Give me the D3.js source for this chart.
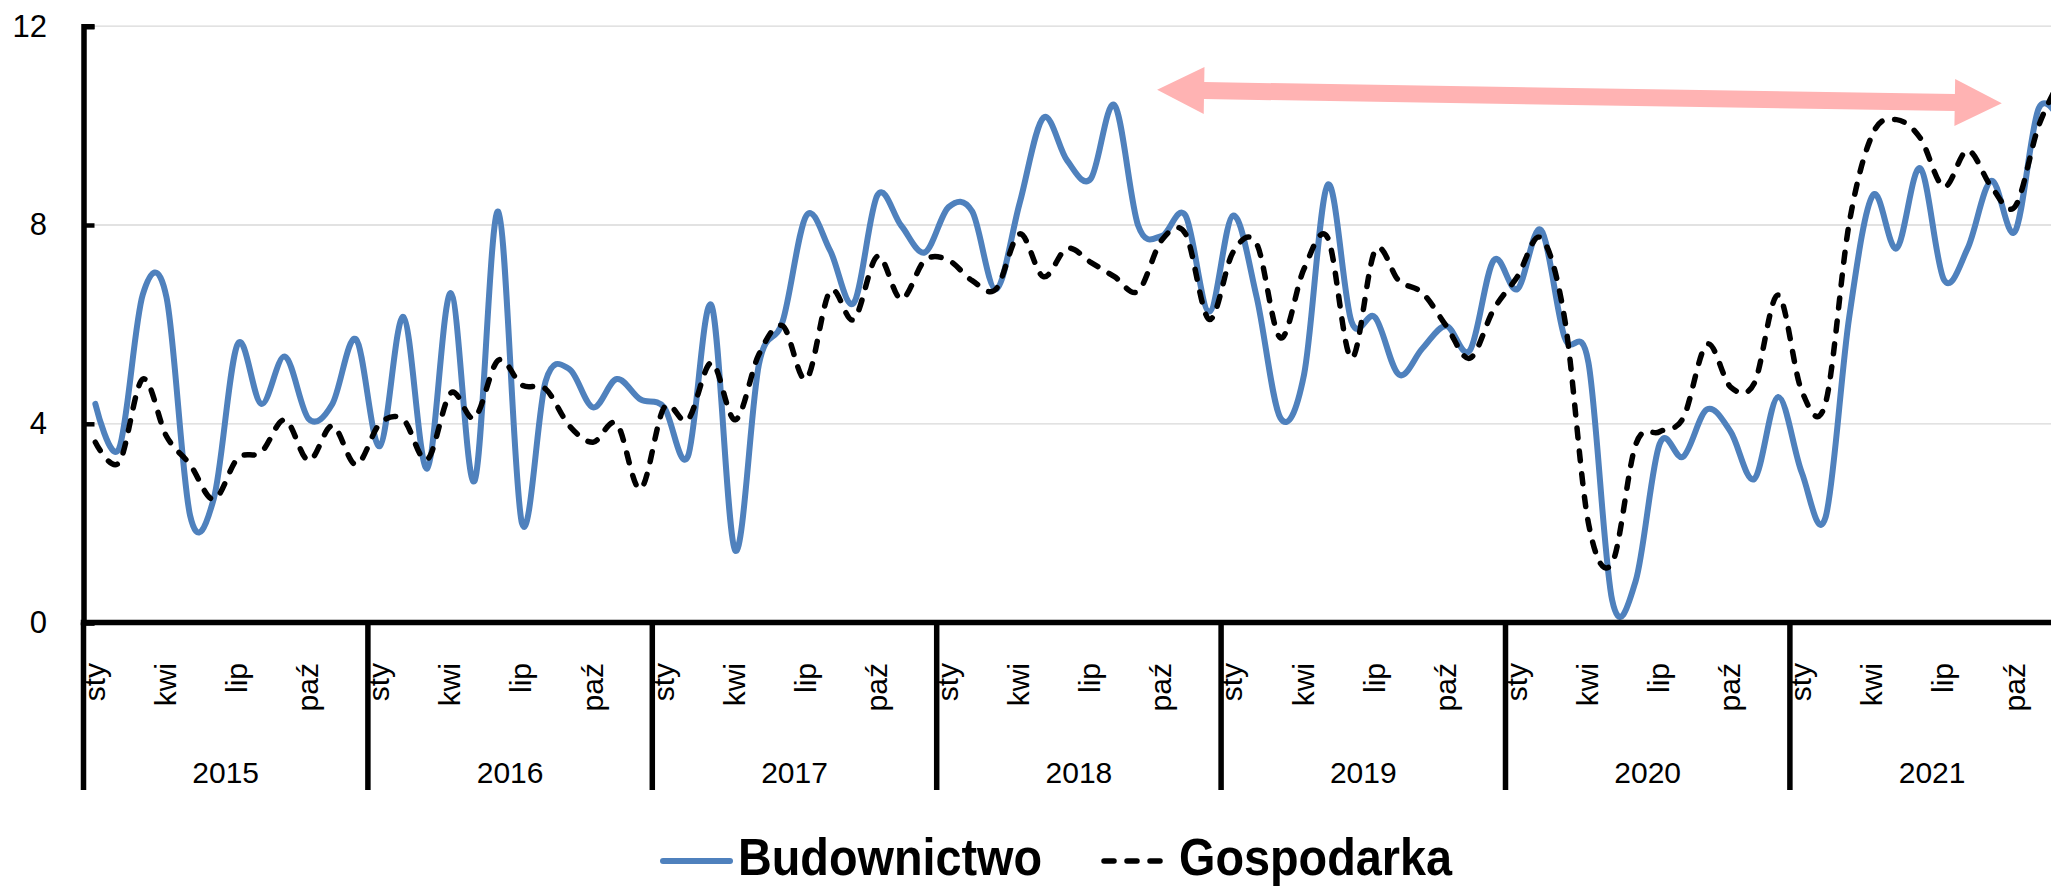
<!DOCTYPE html>
<html>
<head>
<meta charset="utf-8">
<script src="https://cdn.jsdelivr.net/npm/d3@7"></script>
<style>
	body { margin: 0; background: #fff; }
	svg { display: block; font-family: "Liberation Sans", Arial, sans-serif; }
</style>
</head>
<body>
<div class="graph"></div>
<script>

const years = ["2015", "2016", "2017", "2018", "2019", "2020", "2021"];
const monthNames = ["sty", "lut", "mar", "kwi", "maj", "cze", "lip", "sie", "wrz", "paź", "lis", "gru"];
const labelledMonths = ["sty", "kwi", "lip", "paź"];
const yTicks = [0, 4, 8, 12];

// Budownictwo, sty 2015 - gru 2021 (one row per year)
const budownictwo = [
	4.4, 3.5, 6.6, 6.55, 2.15, 2.5, 5.6, 4.4, 5.35, 4.1, 4.4, 5.7,
	3.55, 6.15, 3.1, 6.63, 2.85, 8.27, 2.0, 4.86, 5.1, 4.33, 4.9, 4.49,
	4.33, 3.34, 6.38, 1.45, 5.2, 6.06, 8.19, 7.49, 6.43, 8.6, 7.99, 7.45,
	8.36, 8.27, 6.71, 8.44, 10.16, 9.3, 8.93, 10.41, 7.99, 7.78, 8.19, 6.26,
	8.19, 6.55, 4.12, 4.99, 8.81, 6.06, 6.14, 4.99, 5.52, 5.97, 5.48, 7.29,
	6.71, 7.9, 5.73, 5.23, 0.45, 0.85, 3.59, 3.34, 4.29, 3.84, 2.89, 4.54,
	3.02, 2.11, 6.14, 8.6, 7.53, 9.14, 6.9, 7.53, 8.89, 7.87, 10.35, 10.0
];

// Gospodarka, sty 2015 - gru 2021
const gospodarka = [
	3.63, 3.22, 4.9, 3.75, 3.18, 2.48, 3.3, 3.43, 4.08, 3.26, 3.96, 3.18,
	4.0, 4.08, 3.28, 4.62, 4.12, 5.28, 4.78, 4.7, 3.96, 3.63, 4.0, 2.69,
	4.33, 4.08, 5.23, 4.08, 5.4, 5.97, 4.9, 6.67, 6.1, 7.37, 6.51, 7.29,
	7.29, 6.88, 6.71, 7.82, 6.96, 7.53, 7.25, 6.96, 6.67, 7.7, 7.82, 6.1,
	7.45, 7.62, 5.73, 7.12, 7.74, 5.32, 7.49, 6.88, 6.63, 5.97, 5.32, 6.3,
	6.96, 7.74, 6.1, 2.0, 1.2, 3.59, 3.84, 4.12, 5.6, 4.74, 4.82, 6.59,
	4.66, 4.41, 8.03, 9.84, 10.12, 9.75, 8.77, 9.5, 8.77, 8.37, 10.0, 11.0
];

// pink double arrow, [month position, value]
const arrowFrom = [45.3, 10.72];
const arrowTo = [80.94, 10.45];


function drawChart(){

	let width = 2051;
	let height = 887;
	let blue = "#4F81BD";

	let svg = d3.select(".graph")
		.append("svg")
		.attr("width", width)
		.attr("height", height);

	svg.append("rect")
		.attr("width", width)
		.attr("height", height)
		.attr("fill", "#fff");

	let nMonths = years.length * monthNames.length;

	// one unit = one month, chart keeps going past the right edge of the picture
	let x = d3.scaleLinear().domain([0, nMonths]).range([83.5, 83.5 + nMonths * 23.7]);
	let y = d3.scaleLinear().domain([0, 12]).range([622.6, 26.2]);

	// gridlines
	svg.append("g")
		.selectAll("line")
		.data(yTicks.filter(d => d > 0))
		.enter().append("line")
		.attr("x1", x(0))
		.attr("x2", width)
		.attr("y1", d => y(d))
		.attr("y2", d => y(d))
		.attr("stroke", "#d9d9d9")
		.attr("stroke-width", 1.3);

	// arrow annotation
	let p0 = [x(arrowFrom[0]), y(arrowFrom[1])];
	let p1 = [x(arrowTo[0]), y(arrowTo[1])];
	let len = Math.hypot(p1[0] - p0[0], p1[1] - p0[1]);
	let u = [(p1[0] - p0[0]) / len, (p1[1] - p0[1]) / len];
	let n = [-u[1], u[0]];
	let head = 47, headW = 23.5, shaftW = 8.5;
	let at = (p, a, b) => [p[0] + u[0] * a + n[0] * b, p[1] + u[1] * a + n[1] * b];
	let arrowPts = [
		p0,
		at(p0, head, headW), at(p0, head, shaftW),
		at(p1, -head, shaftW), at(p1, -head, headW),
		p1,
		at(p1, -head, -headW), at(p1, -head, -shaftW),
		at(p0, head, -shaftW), at(p0, head, -headW)
	];
	svg.append("polygon")
		.attr("points", arrowPts.map(p => p.join(",")).join(" "))
		.attr("fill", "#FFB3B3");

	// smooth lines like excel
	let line = d3.line()
		.x((d, i) => x(i + 0.5))
		.y(d => y(d))
		.curve(d3.curveCardinal.tension(0));

	svg.append("path")
		.datum(budownictwo)
		.attr("d", line)
		.attr("fill", "none")
		.attr("stroke", blue)
		.attr("stroke-width", 6)
		.attr("stroke-linejoin", "round")
		.attr("stroke-linecap", "round");

	svg.append("path")
		.datum(gospodarka)
		.attr("d", line)
		.attr("fill", "none")
		.attr("stroke", "#000")
		.attr("stroke-width", 5.5)
		.attr("stroke-dasharray", "10,13")
		.attr("stroke-linecap", "round");

	// y axis
	let yAxis = svg.append("g")
		.attr("transform", "translate(" + x(0) + ",0)")
		.call(d3.axisLeft(y).tickValues(yTicks).tickSize(-11).tickPadding(36.5).tickFormat(d3.format("d")));
	yAxis.select(".domain").attr("stroke", "#000").attr("stroke-width", 5.5);
	yAxis.selectAll(".tick line").attr("stroke", "#000").attr("stroke-width", 4.5);
	yAxis.selectAll(".tick text")
		.attr("fill", "#000")
		.style("font-size", "31px")
		.style("font-family", "'Liberation Sans', Arial, sans-serif");

	// x axis line
	svg.append("line")
		.attr("x1", x(0) - 2.75)
		.attr("x2", width)
		.attr("y1", y(0))
		.attr("y2", y(0))
		.attr("stroke", "#000")
		.attr("stroke-width", 5.5);

	// year separators
	svg.append("g")
		.selectAll("line")
		.data(d3.range(years.length + 1))
		.enter().append("line")
		.attr("x1", d => x(d * 12))
		.attr("x2", d => x(d * 12))
		.attr("y1", y(0))
		.attr("y2", 790)
		.attr("stroke", "#000")
		.attr("stroke-width", 5.5);

	// month labels (rotated)
	let monthTicks = [];
	years.forEach(function(yr, yi){
		monthNames.forEach(function(m, mi){
			if (labelledMonths.indexOf(m) >= 0){
				monthTicks.push({ name: m, idx: yi * 12 + mi });
			}
		});
	});

	svg.append("g")
		.selectAll("text")
		.data(monthTicks)
		.enter().append("text")
		.attr("transform", d => "translate(" + (x(d.idx + 0.5) + 9.5) + ",663) rotate(-90)")
		.attr("text-anchor", "end")
		.attr("font-size", "30px")
		.attr("fill", "#000")
		.text(d => d.name);

	// year labels
	svg.append("g")
		.selectAll("text")
		.data(years)
		.enter().append("text")
		.attr("x", (d, i) => x(i * 12 + 6))
		.attr("y", 783)
		.attr("text-anchor", "middle")
		.attr("font-size", "30px")
		.attr("fill", "#000")
		.text(String);

	// legend (kept just inside the bottom edge)
	let legend = svg.append("g");

	legend.append("line")
		.attr("x1", 663).attr("x2", 730)
		.attr("y1", 861).attr("y2", 861)
		.attr("stroke", blue)
		.attr("stroke-width", 6)
		.attr("stroke-linecap", "round");

	legend.append("text")
		.attr("transform", "translate(738,875) scale(0.9,1)")
		.attr("font-size", "52px")
		.attr("font-weight", "bold")
		.attr("fill", "#000")
		.text("Budownictwo");

	legend.append("line")
		.attr("x1", 1104).attr("x2", 1166)
		.attr("y1", 861).attr("y2", 861)
		.attr("stroke", "#000")
		.attr("stroke-width", 5.5)
		.attr("stroke-dasharray", "10,13")
		.attr("stroke-linecap", "round");

	legend.append("text")
		.attr("transform", "translate(1179,875) scale(0.9,1)")
		.attr("font-size", "52px")
		.attr("font-weight", "bold")
		.attr("fill", "#000")
		.text("Gospodarka");
}

drawChart();

</script>
</body>
</html>
